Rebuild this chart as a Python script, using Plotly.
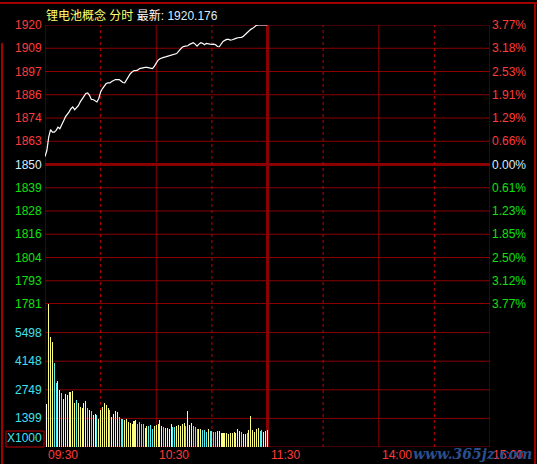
import plotly.graph_objects as go

# ---------------- data ----------------
title_name = "锂电池概念 分时"
title_last = "1920.176"

price_minutes = list(range(0, 121))
price = [1854.4, 1857.4, 1864.1, 1867.8, 1866.6, 1866.6, 1867.5, 1869.1, 1868.3, 1870.0,
         1872.1, 1874.2, 1875.3, 1876.7, 1878.3, 1879.2, 1877.8, 1878.8, 1879.8, 1881.7,
         1883.4, 1884.5, 1885.9, 1886.2, 1885.0, 1882.9, 1882.9, 1882.2, 1881.7, 1883.4,
         1886.7, 1888.4, 1889.7, 1890.9, 1891.2, 1891.2, 1891.9, 1892.6, 1892.9, 1892.9,
         1892.9, 1892.2, 1891.4, 1891.2, 1893.0, 1894.6, 1895.8, 1896.7, 1897.4, 1897.4,
         1897.6, 1898.4, 1898.6, 1899.0, 1899.0, 1899.0, 1898.8, 1898.6, 1898.4, 1899.6,
         1901.0, 1902.6, 1903.3, 1903.8, 1904.0, 1904.2, 1904.5, 1904.9, 1905.1, 1905.5,
         1905.6, 1905.9, 1907.0, 1908.3, 1909.0, 1909.5, 1909.6, 1909.8, 1910.5, 1911.0,
         1911.3, 1910.6, 1909.6, 1910.6, 1911.3, 1911.0, 1910.3, 1911.0, 1910.6, 1910.6,
         1910.5, 1910.6, 1910.3, 1909.4, 1909.3, 1911.0, 1912.0, 1912.5, 1913.0, 1913.0,
         1912.6, 1912.8, 1913.0, 1913.5, 1913.8, 1914.0, 1914.0, 1914.6, 1915.5, 1916.5,
         1917.3, 1918.0, 1918.5, 1919.3, 1920.0, 1920.176, 1920.176, 1920.176, 1920.176, 1920.176,
         1920.176]

vol_minutes = list(range(1, 121))
volume = [2065, 6855, 5307, 5065, 4049, 3081, 3178, 2742, 2597, 2307,
          2549, 2500, 2645, 2645, 2694, 2113, 2258, 2113, 1919, 1871,
          2113, 2210, 1871, 1774, 1726, 1532, 1581, 1532, 1339, 1774,
          1919, 2113, 2016, 1871, 1774, 1436, 1581, 1726, 1678, 1436,
          1339, 1339, 1290, 1339, 1194, 1145, 1097, 1242, 1290, 1097,
          1194, 1097, 1097, 903, 1000, 1000, 1048, 855, 1000, 1048,
          1097, 1290, 1000, 952, 903, 903, 855, 1097, 952, 952,
          1000, 1048, 1000, 1097, 1145, 1000, 1726, 1048, 1145,
          1000, 952, 855, 855, 855, 806, 806, 710, 855, 758,
          758, 710, 710, 758, 758, 661, 661, 661, 661, 613,
          661, 661, 710, 661, 855, 758, 710, 613, 613, 661,
          806, 1484, 806, 710, 855, 903, 758, 806, 710, 758, 806]
vol_kind = list("WYYYCCYYCY" "YYYYYYCYYY" "YYCYCYYCYY" "YYYYCYYYYC"
                "CCYYYYYYYC" "CCCYYCCCYY" "YYYCYYYYCC" "YYYYYCYYY"
                "CCCYYCCCYC" "CCCYYYYYYY" "YYYYYYCYYC" "YYYYYYCCYY" "Y")

price_left_labels = ["1920", "1909", "1897", "1886", "1874", "1863", "1850",
                     "1839", "1828", "1816", "1804", "1793", "1781"]
price_right_labels = ["3.77%", "3.18%", "2.53%", "1.91%", "1.29%", "0.66%", "0.00%",
                      "0.61%", "1.23%", "1.85%", "2.50%", "3.12%", "3.77%"]
vol_labels = ["5498", "4148", "2749", "1399"]
time_labels = ["09:30", "10:30", "11:30", "14:00", "15:00"]
time_ticks = [0, 60, 120, 180, 240]

# ---------------- style ----------------
RED = "#ff3b3b"
GREEN = "#10e010"
CYAN = "#40e0f0"
GRID = "#8a0000"
FONT = "Liberation Sans, Arial, Noto Sans CJK SC, sans-serif"
# alpha just below 1 makes plotly snap each thin bar to whole pixels
kind_color = {"W": "rgba(255,255,255,0.999)", "Y": "rgba(255,255,128,0.999)",
              "C": "rgba(85,240,245,0.999)"}

p_base = 1850.4
p_top = 1920.176
p_bot = 2 * p_base - p_top
p_step = (p_top - p_base) / 6
vol_top = 6870
vol_step = vol_top / 5

fig = go.Figure()
fig.add_trace(go.Bar(x=vol_minutes, y=volume, xaxis="x", yaxis="y2",
                     marker=dict(color=[kind_color[k] for k in vol_kind], line=dict(width=0)),
                     width=0.545, hoverinfo="skip"))
fig.add_trace(go.Scatter(x=price_minutes, y=price, xaxis="x", yaxis="y", mode="lines",
                         line=dict(color="#ffffff", width=1.2), hoverinfo="skip"))

split = 143 / 422
shapes = []
# horizontal price grid
for i in range(13):
    v = p_top - i * p_step
    w = 1
    if i == 6:
        w = 3
    elif i == 12:
        w = 2
    shapes.append(dict(type="line", xref="paper", yref="y", x0=0, x1=1, y0=v, y1=v,
                       line=dict(color=GRID, width=w), layer="below"))
# horizontal volume grid
for i in range(0, 5):
    v = i * vol_step
    shapes.append(dict(type="line", xref="paper", yref="y2", x0=0, x1=1, y0=v, y1=v,
                       line=dict(color=GRID, width=1), layer="below"))
# vertical grid
for m, w, d in [(0, 1, "solid"), (30, 1, "dot"), (60, 1, "solid"), (90, 1, "dot"),
                (120, 3, "solid"), (150, 1, "dot"), (180, 1, "solid"), (210, 1, "dot"),
                (240, 1, "solid")]:
    shapes.append(dict(type="line", xref="x", yref="paper", x0=m, x1=m, y0=0, y1=1,
                       line=dict(color=GRID if d == "solid" else "#c00000", width=w, dash=d),
                       layer="below"))

def px(xp):
    return (xp - 45) / 445

def py(yp):
    return (447 - yp) / 422

# outer frame
shapes.append(dict(type="line", xref="paper", yref="paper", x0=px(0), x1=px(537), y0=py(3), y1=py(3),
                   line=dict(color="#a00000", width=2)))
shapes.append(dict(type="line", xref="paper", yref="paper", x0=px(535), x1=px(535), y0=py(3), y1=py(464),
                   line=dict(color="#a00000", width=2)))
shapes.append(dict(type="line", xref="paper", yref="paper", x0=px(2), x1=px(2), y0=py(43), y1=py(464),
                   line=dict(color="#a00000", width=2)))
# X1000 box
shapes.append(dict(type="rect", xref="paper", yref="paper", x0=px(6), x1=px(44), y0=py(447), y1=py(431),
                   line=dict(color="#c00000", width=1)))

ann = []
for i, (lt, rt) in enumerate(zip(price_left_labels, price_right_labels)):
    v = p_top - i * p_step
    if i < 6:
        c = RED
    elif i == 6:
        c = "#d8ecff"
    else:
        c = GREEN
    ann.append(dict(xref="paper", yref="y", x=0, y=v, text=lt, showarrow=False,
                    xanchor="right", yanchor="middle", xshift=-1,
                    font=dict(color=c, size=12, family=FONT)))
    ann.append(dict(xref="paper", yref="y", x=1, y=v, text=rt, showarrow=False,
                    xanchor="left", yanchor="middle", xshift=0,
                    font=dict(color=c, size=12, family=FONT)))
for i, t in enumerate(vol_labels):
    v = (4 - i) * vol_step
    ann.append(dict(xref="paper", yref="y2", x=0, y=v, text=t, showarrow=False,
                    xanchor="right", yanchor="middle", xshift=-1,
                    font=dict(color=CYAN, size=12, family=FONT)))
ann.append(dict(xref="paper", yref="y2", x=0, y=0, text="X1000", showarrow=False,
                xanchor="right", yanchor="bottom", xshift=-1, yshift=0,
                font=dict(color=CYAN, size=12, family=FONT)))
for m, t in zip(time_ticks, time_labels):
    ann.append(dict(xref="x", yref="paper", x=m, y=py(455), text=t, showarrow=False,
                    xanchor="left", yanchor="middle", xshift=1,
                    font=dict(color=RED, size=12, family=FONT)))
ann.append(dict(xref="paper", yref="paper", x=0, y=py(15),
                text=('<span style="color:#ffff70">' + title_name + '</span> '
                      '<span style="color:#ffffff">最新:</span> '
                      '<span style="color:#d8ecff">' + title_last + '</span>'),
                showarrow=False, xanchor="left", yanchor="middle", xshift=-1,
                font=dict(size=12, family=FONT)))
ann.append(dict(xref="paper", yref="paper", x=px(472), y=py(454), text="<b><i>www.365jz.com</i></b>",
                showarrow=False, xanchor="center", yanchor="middle",
                font=dict(size=14, family="DejaVu Serif, serif", color="#2a4f8f")))

fig.update_layout(
    width=537, height=464,
    margin=dict(l=45, r=47, t=25, b=17, pad=0),
    paper_bgcolor="#000000", plot_bgcolor="#000000",
    showlegend=False, bargap=0,
    xaxis=dict(range=[0, 240], showgrid=False, zeroline=False, showticklabels=False,
               ticks="", showline=False, fixedrange=True),
    yaxis=dict(domain=[split, 1], range=[p_bot, p_top], showgrid=False, zeroline=False,
               showticklabels=False, ticks="", showline=False),
    yaxis2=dict(domain=[0, split], range=[0, vol_top], showgrid=False, zeroline=False,
                showticklabels=False, ticks="", showline=False),
    shapes=shapes, annotations=ann,
)
fig.write_html("out.html", config={"displayModeBar": False},
               post_script="document.body.style.margin='0';document.body.style.background='#000';")
